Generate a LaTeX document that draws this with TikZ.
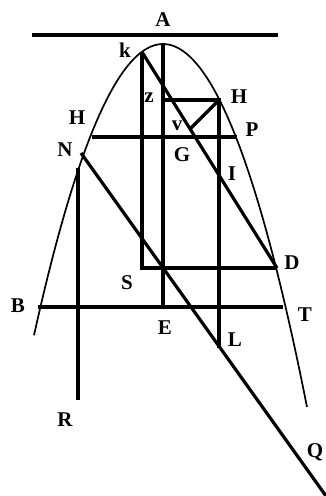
\documentclass[tikz,border=0pt]{standalone}
\usepackage{fontspec}
\setmainfont{Liberation Serif}
\begin{document}
\begin{tikzpicture}[x=1pt,y=-1pt,
  ln/.style={line width=3.2pt},
  cv/.style={line width=1.7pt},
  lb/.style={font=\fontsize{21}{21}\selectfont\bfseries, inner sep=0pt}]
\useasboundingbox (0,0) rectangle (325,496);
% parabola
\draw[cv, domain=34:307, samples=80] plot (\x, {44+0.0175*(\x-163)*(\x-163)});
% coordinates
\coordinate (tl) at (32,35);
\coordinate (tr) at (278,35);
\coordinate (vx) at (163,44);
\coordinate (k) at (142,52);
\coordinate (S) at (142,268);
\coordinate (D) at (277,268);
\coordinate (Hr) at (219,100);
\coordinate (zc) at (163,100);
\coordinate (v) at (190,129);
\coordinate (Lp) at (219,348);
\coordinate (Hl) at (92,137);
\coordinate (Pp) at (237,137);
\coordinate (N) at (81,153);
\coordinate (Qp) at (326,496);
\coordinate (Nv) at (78,168);
\coordinate (R) at (78,400);
\coordinate (Bp) at (38,307);
\coordinate (Tp) at (283,307);
\coordinate (E) at (163,307);
% lines
\draw[ln] (tl) -- (tr);
\draw[ln] (vx) -- (E);
\draw[ln] (k) -- (S) -- (D);
\draw[ln] (k) -- (D);
\draw[ln] (zc) -- (Hr) -- (Lp);
\draw[ln] (Hr) -- (v);
\draw[ln] (Hl) -- (Pp);
\draw[ln] (N) -- (Qp);
\draw[ln] (Nv) -- (R);
\draw[ln] (Bp) -- (Tp);
% labels
\node[lb] (lA) at (163,20) {A};
\node[lb] (lk) at (125,50) {k};
\node[lb] (lz) at (149,98) {z};
\node[lb] (lH1) at (239,97) {H};
\node[lb] (lH2) at (77,118) {H};
\node[lb] (lv) at (177,126) {v};
\node[lb] (lP) at (252,130) {P};
\node[lb] (lN) at (65,150) {N};
\node[lb] (lG) at (182,155) {G};
\node[lb] (lI) at (232,174) {I};
\node[lb] (lD) at (292,263) {D};
\node[lb] (lS) at (127,283) {S};
\node[lb] (lB) at (18,306) {B};
\node[lb] (lT) at (305,315) {T};
\node[lb] (lE) at (165,328) {E};
\node[lb] (lL) at (235,340) {L};
\node[lb] (lR) at (65,420) {R};
\node[lb] (lQ) at (315,452) {Q};
\end{tikzpicture}
\end{document}
